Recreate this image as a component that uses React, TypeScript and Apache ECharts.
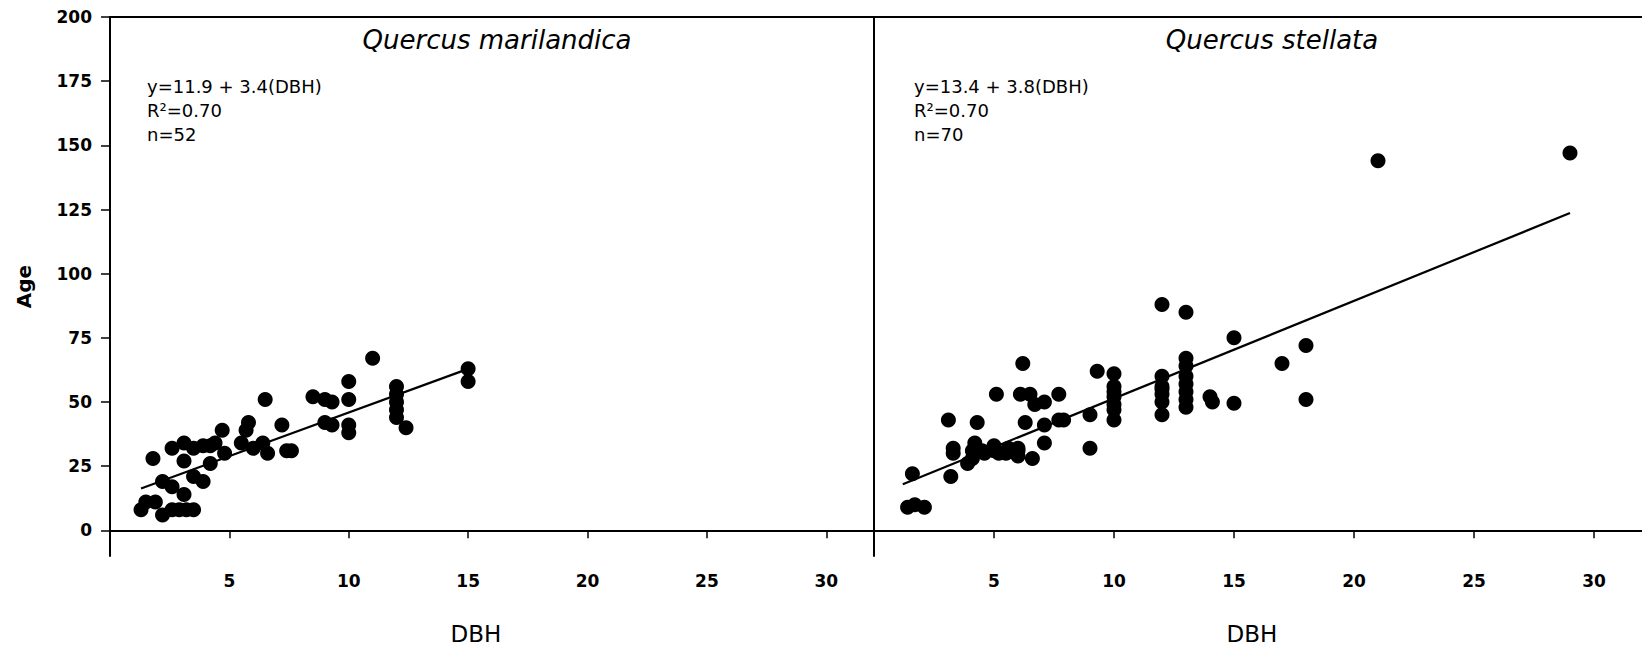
import React, { useEffect, useRef } from "react";
import * as echarts from "echarts";

// Quercus marilandica (left panel)
const marilandicaDBH = [
  1.3, 1.5, 1.9, 2.2, 2.6, 2.9, 3.5, 1.8, 2.2, 2.6,
  3.1, 2.6, 3.1, 3.1, 3.5, 3.9, 4.4, 4.7, 4.8, 3.5,
  3.9, 4.2, 5.5, 5.7, 5.8, 6.0, 6.4, 6.6, 6.5, 7.2,
  7.6, 7.4, 8.5, 9.0, 9.3, 9.0, 9.3, 10, 10, 10,
  10, 11, 12, 12, 12, 12, 12, 12.4, 15, 15,
  4.2, 3.2,
];
const marilandicaAge = [
  8, 11, 11, 6, 8, 8, 8, 28, 19, 17,
  14, 32, 34, 27, 32, 33, 34, 39, 30, 21,
  19, 26, 34, 39, 42, 32, 34, 30, 51, 41,
  31, 31, 52, 51, 50, 42, 41, 58, 51, 41,
  38, 67, 56, 53, 50, 47, 44, 40, 63, 58,
  33, 8,
];

// Quercus stellata (right panel)
const stellataDBH = [
  1.4, 1.7, 2.1, 1.6, 3.1, 3.2, 3.3, 3.9, 4.1, 4.2,
  4.3, 4.1, 4.6, 5.0, 5.1, 5.2, 5.6, 6.0, 6.0, 6.2,
  6.1, 6.3, 6.5, 6.6, 6.7, 7.1, 7.1, 7.1, 7.7, 7.7,
  7.9, 9.0, 9.0, 9.3, 10, 10, 10, 10, 10, 10,
  12, 12, 12, 12, 12, 12,
  13, 13, 13, 13, 13, 13, 13,
  14, 14.1, 15, 15, 17, 18, 18, 21, 29,
  4.5, 5.0, 5.5, 3.3, 10, 12, 13, 6.0,
];
const stellataAge = [
  9, 10, 9, 22, 43, 21, 32, 26, 28, 34,
  42, 31, 30, 33, 53, 30, 32, 32, 29, 65,
  53, 42, 53, 28, 49, 50, 41, 34, 53, 43,
  43, 45, 32, 62, 61, 56, 52, 49, 43, 54,
  88, 60, 56, 53, 50, 45,
  85, 67, 64, 60, 54, 51, 48,
  52, 50, 75, 49.5, 65, 72, 51, 144, 147,
  31, 31, 30, 30, 47, 55, 57, 31,
];

// Regression fits: [intercept, slope, xStart, xEnd]
const marilandicaFit = [11.9, 3.4, 1.3, 15];
const stellataFit = [13.4, 3.8, 1.2, 29];

const yTicks = [0, 25, 50, 75, 100, 125, 150, 175, 200];
const xInterval = 5;

const titles = ["Quercus marilandica", "Quercus stellata"];
const notes = [
  "y=11.9 + 3.4(DBH)\nR\u00b2=0.70\nn=52",
  "y=13.4 + 3.8(DBH)\nR\u00b2=0.70\nn=70",
];

const FONT = "DejaVu Sans";

function pairs(xs: number[], ys: number[]) {
  return xs.map((x, i) => [x, ys[i]]);
}
function fitLine(f: number[]) {
  const [a, b, x0, x1] = f;
  return [
    [x0, a + b * x0],
    [x1, a + b * x1],
  ];
}

export default function App() {
  const ref = useRef<HTMLDivElement>(null);
  useEffect(() => {
    if (!ref.current) return;
    const chart = echarts.init(ref.current, null, { renderer: "svg" });
    const axisLine = { show: true, lineStyle: { color: "#000", width: 2 } };
    const mkX = (gi: number) => ({
      type: "value",
      gridIndex: gi,
      min: 0,
      max: 32,
      interval: xInterval,
      position: "bottom",
      axisLine,
      splitLine: { show: false },
      axisTick: {
        show: true,
        inside: false,
        length: 8,
        lineStyle: { color: "#000", width: 1.5 },
      },
      axisLabel: {
        showMinLabel: false,
        showMaxLabel: false,
        margin: 16,
        color: "#000",
        fontFamily: FONT,
        fontWeight: "bold",
        fontSize: 17,
      },
      name: "DBH",
      nameLocation: "middle",
      nameGap: 66,
      nameTextStyle: {
        fontFamily: FONT,
        fontSize: 23,
        color: "#000",
        padding: gi === 0 ? [0, 32, 0, 0] : [0, 12, 0, 0],
      },
    });
    const mkTop = (gi: number) => ({
      type: "value",
      gridIndex: gi,
      min: 0,
      max: 32,
      position: "top",
      axisLine,
      axisTick: { show: false },
      axisLabel: { show: false },
      splitLine: { show: false },
    });
    const titleStyle = {
      fontFamily: FONT,
      fontStyle: "italic",
      fontWeight: "normal",
      fontSize: 26,
      color: "#000",
    };
    const noteStyle = {
      fontFamily: FONT,
      fontWeight: "normal",
      fontSize: 18,
      lineHeight: 24,
      fill: "#000",
    };
    const option: any = {
      animation: false,
      backgroundColor: "#fff",
      title: [
        { text: titles[0], left: 492, top: 22, textAlign: "center", textStyle: titleStyle },
        { text: titles[1], left: 1267, top: 22, textAlign: "center", textStyle: titleStyle },
      ],
      graphic: [
        { type: "text", left: 147, top: 74, style: { text: notes[0], ...noteStyle } },
        { type: "text", left: 914, top: 74, style: { text: notes[1], ...noteStyle } },
      ],
      grid: [
        { left: 110, top: 17, width: 764, height: 539 },
        { left: 874, top: 17, width: 768, height: 539 },
      ],
      xAxis: [mkX(0), mkX(1), mkTop(0), mkTop(1)],
      yAxis: [
        {
          type: "value",
          gridIndex: 0,
          min: -10,
          max: 200,
          axisLine,
          splitLine: { show: false },
          axisTick: {
            show: true,
            length: 9,
            lineStyle: { color: "#000", width: 1.5 },
            customValues: yTicks,
          },
          axisLabel: {
            customValues: yTicks,
            margin: 18,
            color: "#000",
            fontFamily: FONT,
            fontWeight: "bold",
            fontSize: 17,
          },
          name: "Age",
          nameLocation: "middle",
          nameGap: 76,
          nameTextStyle: { fontFamily: FONT, fontSize: 20, fontWeight: "bold", color: "#000" },
        },
        {
          type: "value",
          gridIndex: 1,
          min: -10,
          max: 200,
          axisLine,
          splitLine: { show: false },
          axisTick: { show: false },
          axisLabel: { show: false },
        },
      ],
      series: [
        {
          type: "scatter",
          xAxisIndex: 0,
          yAxisIndex: 0,
          symbol: "circle",
          symbolSize: 15,
          itemStyle: { color: "#000", opacity: 1 },
          data: pairs(marilandicaDBH, marilandicaAge),
        },
        {
          type: "line",
          xAxisIndex: 0,
          yAxisIndex: 0,
          symbol: "none",
          lineStyle: { color: "#000", width: 2.2 },
          data: fitLine(marilandicaFit),
        },
        {
          type: "scatter",
          xAxisIndex: 1,
          yAxisIndex: 1,
          symbol: "circle",
          symbolSize: 15,
          itemStyle: { color: "#000", opacity: 1 },
          data: pairs(stellataDBH, stellataAge),
        },
        {
          type: "line",
          xAxisIndex: 1,
          yAxisIndex: 1,
          symbol: "none",
          lineStyle: { color: "#000", width: 2.2 },
          data: fitLine(stellataFit),
        },
      ],
    };
    chart.setOption(option);
    return () => chart.dispose();
  }, []);
  return (
    <div
      ref={ref}
      style={{ position: "fixed", left: 0, top: 0, width: 1642, height: 650, background: "#fff" }}
    />
  );
}
